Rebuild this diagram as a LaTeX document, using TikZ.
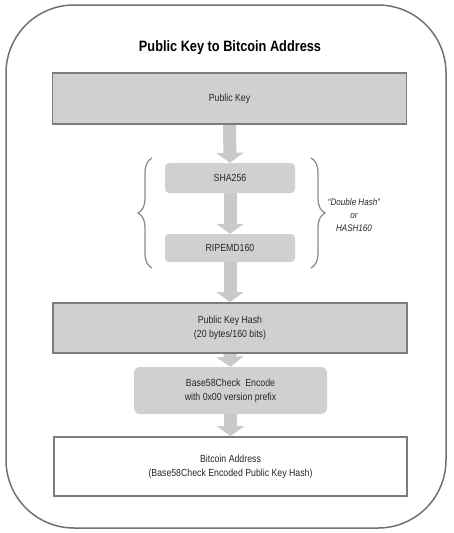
\documentclass[tikz,border=0pt]{standalone}
\usepackage{fontspec}
\setmainfont{Liberation Sans}[FakeStretch=0.85]
\usetikzlibrary{arrows.meta,decorations.pathreplacing,backgrounds}
\definecolor{boxfill}{HTML}{D0D0D0}
\definecolor{boxline}{HTML}{7C7C7C}
\definecolor{arrowgray}{HTML}{C9C9C9}
\definecolor{framegray}{HTML}{707070}
\begin{document}
\begin{tikzpicture}[x=1pt,y=-1pt,
  bigbox/.style={draw=boxline,line width=1.8pt,fill=boxfill,minimum width=354pt,align=center,font=\fontsize{10.3}{14}\selectfont,text=black!85},
  smallbox/.style={fill=boxfill,rounded corners=4pt,align=center,font=\fontsize{10.3}{14}\selectfont,text=black!85},
  flow/.style={line width=13pt,arrowgray,-{Triangle[width=27pt,length=10pt]}},
  bracestyle/.style={draw=framegray!80,line width=1.3pt,decorate,decoration={brace,amplitude=14pt}}]
\useasboundingbox (0,0) rectangle (453,533);
\draw[framegray,line width=1.5pt,rounded corners=68pt] (6,5) rectangle (446,528);
\node[font=\fontsize{15}{17}\selectfont\bfseries] (title) at (230,48) {Public Key to Bitcoin Address};
\node[bigbox,minimum height=51pt] (pk) at (229.5,98.5) {Public Key};
\node[smallbox,minimum width=130pt,minimum height=30pt] (sha) at (230,178) {SHA256};
\node[smallbox,minimum width=130pt,minimum height=28pt] (rip) at (230,248) {RIPEMD160};
\node[bigbox,minimum height=50pt] (pkh) at (230,328) {Public Key Hash\\(20 bytes/160 bits)};
\node[smallbox,rounded corners=6pt,minimum width=193pt,minimum height=47pt] (b58) at (230.5,390.5) {Base58Check\ \ Encode\\with 0x00 version prefix};
\node[bigbox,fill=white,minimum width=353pt,minimum height=59pt] (addr) at (230.5,466.5) {Bitcoin Address\\(Base58Check Encoded Public Key Hash)};
\node[align=center,font=\fontsize{9.5}{13}\selectfont\itshape,text=black!85] (dh) at (354,215) {``Double Hash''\\or\\HASH160};
\coordinate (lbt) at (152,268);
\coordinate (lbb) at (152,158);
\coordinate (rbt) at (311,158);
\coordinate (rbb) at (311,268);
\draw[bracestyle] (lbt) -- (lbb);
\draw[bracestyle] (rbt) -- (rbb);
\begin{scope}[on background layer]
\draw[flow] (pk.south) -- (sha.north);
\draw[flow] (sha.south) -- (rip.north);
\draw[flow] (rip.south) -- (pkh.north);
\draw[flow] (pkh.south) -- (b58.north);
\draw[flow] (b58.south) -- (addr.north);
\end{scope}
\end{tikzpicture}
\end{document}
